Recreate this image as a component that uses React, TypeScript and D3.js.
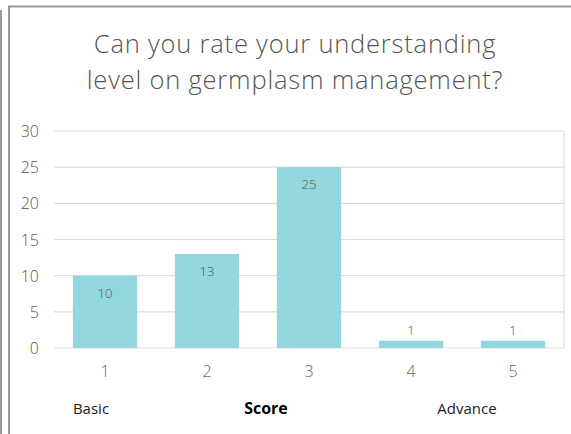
import React from 'react';
import * as d3 from 'd3';

const scores = ['1', '2', '3', '4', '5'];
const counts = [10, 13, 25, 1, 1];
const yTicks = [0, 5, 10, 15, 20, 25, 30];
const titleLines = ['Can you rate your understanding', 'level on germplasm management?'];

const W = 571;
const H = 434;
const m = { top: 131, right: 7, bottom: 86, left: 54 };

const App = () => {
  const x = d3.scaleBand().domain(scores).range([m.left, W - m.right]).paddingInner(0.37).paddingOuter(0.185);
  const y = d3.scaleLinear().domain([0, 30]).range([H - m.bottom, m.top]);
  const font = '"Open Sans", Lato, sans-serif';

  return (
    <svg width={W} height={H} style={{ position: 'absolute', left: 0, top: 0, fontFamily: font }}>
      <rect width={W} height={H} fill="#fff" />
      {/* frame lines */}
      <line x1={1} x2={1} y1={10} y2={H} stroke="#999" strokeWidth={2} />
      <line x1={9} x2={9} y1={6} y2={H} stroke="#999" strokeWidth={2} />
      <line x1={8} x2={W} y1={6.5} y2={6.5} stroke="#999" strokeWidth={2} />

      {titleLines.map((t, i) => (
        <text key={t} x={295} y={53 + i * 36} textAnchor="middle" fontSize={25.5} letterSpacing={0.8} fontWeight={300} fill="#555">{t}</text>
      ))}

      {yTicks.map(t => (
        <g key={t}>
          <line x1={m.left} x2={W - m.right} y1={y(t)} y2={y(t)} stroke="#ddd" strokeWidth={1.2} />
          <text x={39} y={y(t) + 6} textAnchor="end" fontSize={16} fontWeight={300} fill="#555">{t}</text>
        </g>
      ))}
      <line x1={W - m.right} x2={W - m.right} y1={y(30)} y2={y(0)} stroke="#ddd" strokeWidth={1.2} />

      {counts.map((c, i) => {
        const bx = x(scores[i])!;
        const top = y(c);
        const inside = c > 3;
        return (
          <g key={i}>
            <rect x={bx} y={top} width={x.bandwidth()} height={y(0) - top} fill="#92d7dd" />
            <text x={bx + x.bandwidth() / 2} y={inside ? top + 22 : top - 6} textAnchor="middle" fontSize={13} fontWeight={300} fill="#555">{c}</text>
          </g>
        );
      })}

      {scores.map(s => (
        <text key={s} x={x(s)! + x.bandwidth() / 2} y={377} textAnchor="middle" fontSize={16} fontWeight={300} fill="#666">{s}</text>
      ))}

      <text x={91} y={414} textAnchor="middle" fontSize={15} fill="#222">Basic</text>
      <text x={266} y={414} textAnchor="middle" fontSize={16} fontWeight="bold" fill="#000">Score</text>
      <text x={467} y={414} textAnchor="middle" fontSize={15} fill="#222">Advance</text>
    </svg>
  );
};

export default App;
